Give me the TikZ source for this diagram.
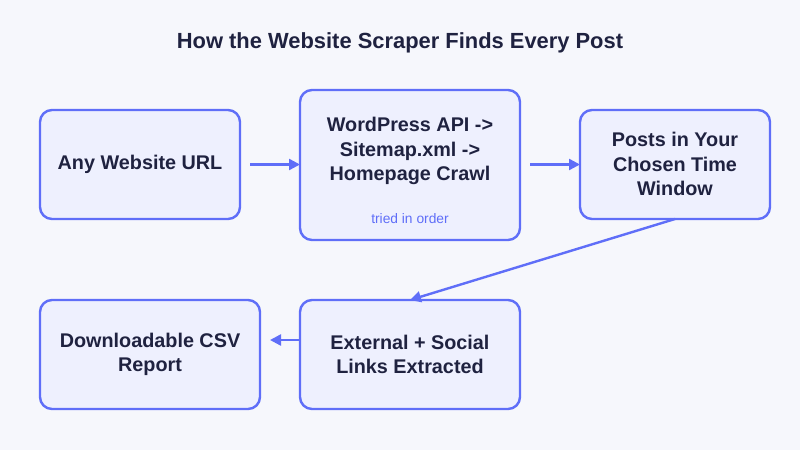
\documentclass[tikz,border=0pt]{standalone}
\usepackage{fontspec}
\setmainfont{Liberation Sans}
\usetikzlibrary{arrows.meta}
\definecolor{bgc}{HTML}{F6F7FC}
\definecolor{boxfill}{HTML}{EEF0FE}
\definecolor{boxline}{HTML}{5F6EF8}
\definecolor{txt}{HTML}{1F2240}
\begin{document}
\begin{tikzpicture}[x=1pt,y=-1pt,
  stepbox/.style={draw=boxline, line width=2.4pt, fill=boxfill, rounded corners=12pt},
  lbl/.style={font=\bfseries\fontsize{19.8}{24.5}\selectfont, text=txt, align=center},
  conn/.style={draw=boxline, line width=2.4pt, -{Triangle[length=11pt,width=11pt]}}]
\fill[bgc] (0,0) rectangle (800,450);
\useasboundingbox (0,0) rectangle (800,450);
\node[font=\bfseries\fontsize{21.9}{26}\selectfont, text=txt] (title) at (400,43) {How the Website Scraper Finds Every Post};
% boxes
\draw[stepbox] (40,110) rectangle (240,219);
\coordinate (b1) at (140,164.5);
\node[lbl] (t1) at (b1) {Any Website URL};
\draw[stepbox] (300,90) rectangle (520,240);
\node[lbl] (t2) at (410,151) {WordPress API ->\\Sitemap.xml ->\\Homepage Crawl};
\node[font=\fontsize{13.8}{16}\selectfont, text=boxline] (s2) at (410,219) {tried in order};
\draw[stepbox] (580,110) rectangle (770,219);
\node[lbl] (t3) at (675,164) {Posts in Your\\Chosen Time\\Window};
\draw[stepbox] (40,300) rectangle (260,409);
\node[lbl] (t4) at (150,354.5) {Downloadable CSV\\Report};
\draw[stepbox] (300,300) rectangle (520,409);
\node[lbl] (t5) at (410,354.5) {External + Social\\Links Extracted};
% anchor coordinates
\coordinate (b1e) at (250,164.5);
\coordinate (b2w) at (300,164.5);
\coordinate (b2e) at (530,164.5);
\coordinate (b3w) at (580,164.5);
\coordinate (b3s) at (675,219);
\coordinate (b5n) at (410,300);
\coordinate (b5w) at (300,340);
\coordinate (b4e) at (270,340);
\draw[conn] (b1e) -- (b2w);
\draw[conn] (b2e) -- (b3w);
\draw[conn] (b3s) -- (b5n);
\draw[conn] (b5w) -- (b4e);
\end{tikzpicture}
\end{document}
